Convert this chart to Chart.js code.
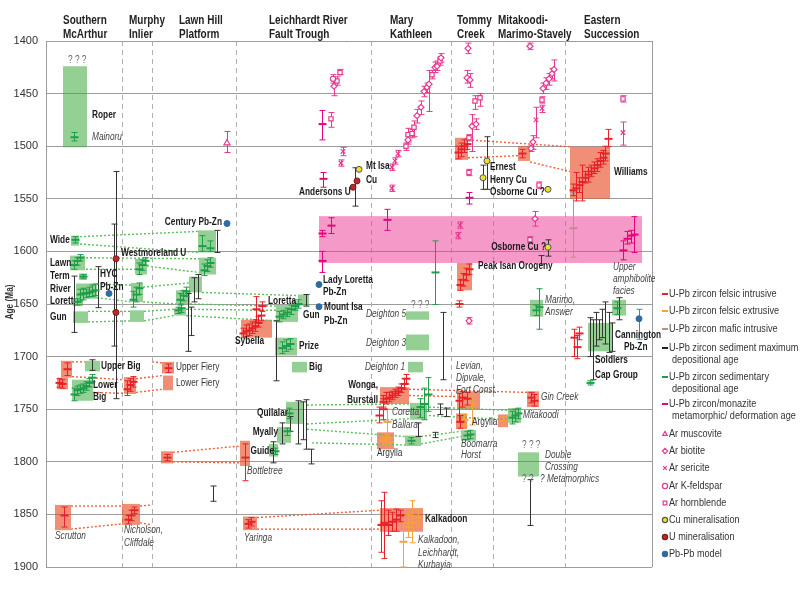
<!DOCTYPE html>
<html>
<head>
<meta charset="utf-8">
<script src="https://cdn.jsdelivr.net/npm/chart.js@4.4.1/dist/chart.umd.min.js"></script>
<style>html,body{margin:0;padding:0;background:#fff}canvas{display:block}</style>
</head>
<body>
<canvas id="chart" width="800" height="591" style="width:800px;height:591px"></canvas>
<script>
// --- Axis and columns ---
const ageMin = 1400, ageMax = 1900, ageStep = 50;
const columnNames = [['Southern', 'McArthur'], ['Murphy', 'Inlier'], ['Lawn Hill', 'Platform'], ['Leichhardt River', 'Fault Trough'],
    ['Mary', 'Kathleen'], ['Tommy', 'Creek'], ['Mitakoodi-', 'Marimo-Stavely'], ['Eastern', 'Succession']];
const columnStarts = [63, 129, 179, 269, 390, 457, 498, 584];
const columnBreaks = [122, 152, 236, 371, 451, 493, 565];

// --- U-Pb error bars: [position, age, low, high] ---
const felsicIntrusive = [
    [67, 1712, 1706, 1718], [59, 1725, 1721, 1729], [62, 1726, 1722, 1730], [64, 1851, 1843, 1862],
    [127, 1731, 1723, 1737], [130, 1727, 1721, 1733], [133, 1724, 1719, 1729],
    [128, 1855, 1851, 1859], [131, 1851, 1846, 1856], [134, 1846, 1843, 1849],
    [168, 1711, 1707, 1715], [167, 1796, 1793, 1799],
    [243, 1678, 1673, 1682], [246, 1676, 1670, 1681], [249, 1675, 1669, 1680], [252, 1673, 1667, 1678], [255, 1671, 1665, 1676],
    [258, 1668, 1662, 1672], [261, 1661, 1656, 1666], [256, 1655, 1643, 1668], [262, 1652, 1648, 1657],
    [245, 1796, 1783, 1818], [248, 1859, 1855, 1863], [251, 1857, 1853, 1861],
    [383, 1743, 1737, 1748], [386, 1740, 1734, 1745], [389, 1739, 1734, 1743], [392, 1737, 1733, 1741], [395, 1735, 1731, 1739],
    [398, 1733, 1729, 1737], [401, 1730, 1726, 1734], [404, 1726, 1721, 1731], [406, 1721, 1717, 1726],
    [379, 1756, 1748, 1763], [383, 1750, 1740, 1760],
    [381, 1860, 1837, 1886], [384, 1858, 1829, 1892], [388, 1860, 1846, 1870], [392, 1857, 1848, 1866], [396, 1855, 1845, 1866], [400, 1851, 1846, 1857],
    [458, 1506, 1500, 1512], [461, 1503, 1497, 1510], [464, 1500, 1494, 1506], [467, 1498, 1493, 1503],
    [460, 1632, 1627, 1637], [463, 1627, 1621, 1633], [466, 1622, 1616, 1628], [469, 1617, 1612, 1622], [459, 1650, 1647, 1653],
    [459, 1742, 1735, 1762], [462, 1739, 1733, 1748], [467, 1740, 1734, 1746], [460, 1762, 1756, 1768],
    [522, 1507, 1503, 1511], [531, 1739, 1734, 1744], [534, 1742, 1736, 1747],
    [608, 1493, 1484, 1500.5],
    [573, 1542, 1536, 1547], [576, 1540, 1525, 1552], [579, 1537, 1530, 1544], [582, 1534, 1518, 1552], [585, 1530, 1524, 1535],
    [588, 1527, 1520, 1534], [591, 1524, 1518, 1529], [594, 1521, 1515, 1526], [597, 1518, 1512, 1524], [600, 1514, 1506, 1520],
    [603, 1511, 1504, 1517], [605, 1507, 1500, 1514],
    [574, 1682, 1674, 1700], [577, 1691, 1680, 1702], [579, 1678, 1672, 1684]
];
const felsicExtrusive = [
    [387, 1762, 1750, 1776], [383, 1780, 1776, 1784], [386, 1778, 1774, 1783], [389, 1782, 1777, 1786],
    [403, 1876, 1858, 1900], [408, 1862, 1850, 1872], [412, 1858, 1837, 1877], [418, 1853, 1846, 1862],
    [472, 1745, 1737, 1765], [464, 1760, 1755, 1766], [503, 1761, 1757, 1765]
];
const maficIntrusive = [[573, 1578, 1544, 1605.5]];
const sedimentary = [
    [74, 1491.5, 1487, 1495], [75, 1589, 1586, 1592],
    [74, 1613, 1609, 1617], [77, 1609, 1606, 1613], [80, 1606, 1603, 1609], [83, 1624, 1622, 1626],
    [80, 1641, 1636, 1647], [83, 1640, 1635, 1646], [86, 1640, 1636, 1644], [89, 1639, 1634, 1643], [92, 1638, 1632, 1643], [95, 1637, 1631, 1642],
    [77, 1648, 1645, 1651],
    [74, 1736, 1730, 1742], [77, 1732, 1728, 1737], [80, 1731, 1727, 1735], [83, 1730, 1726, 1734], [86, 1728, 1724, 1732], [89, 1725, 1721, 1729], [92, 1720, 1717, 1724],
    [139, 1617, 1611, 1622], [142, 1613, 1608, 1618], [145, 1609, 1606, 1613],
    [133, 1646, 1638, 1653], [136, 1641, 1634, 1648], [139, 1635, 1630, 1641],
    [202, 1595, 1585, 1600], [210, 1597, 1590, 1600], [204, 1618, 1612, 1623], [207, 1614, 1608, 1619], [210, 1611, 1606, 1615],
    [180, 1646, 1640, 1651], [183, 1642, 1637, 1647], [186, 1638, 1634, 1643], [178, 1656, 1653, 1659], [181, 1654, 1650, 1658],
    [279, 1662, 1657, 1667], [283, 1660, 1656, 1664], [287, 1658, 1654, 1662], [291, 1655, 1651, 1660], [295, 1652, 1648, 1656], [298, 1650, 1646, 1654],
    [282, 1692, 1686, 1697], [286, 1690, 1684, 1695], [290, 1688, 1683, 1693],
    [289, 1754, 1749, 1759], [287, 1771, 1768, 1775], [275, 1790, 1787, 1793],
    [435, 1620, 1590, 1650.5], [420, 1748, 1740, 1758], [424, 1745, 1730, 1760], [428, 1736, 1720, 1752], [411, 1780, 1777, 1783],
    [467, 1775, 1771, 1779], [470, 1774, 1770, 1778],
    [539, 1653, 1635.5, 1674], [536, 1656, 1651, 1661], [512, 1758, 1752, 1764], [515, 1756, 1750, 1762], [518, 1754, 1749, 1759],
    [617, 1654, 1648, 1660], [590, 1725, 1723, 1727]
];
const metamorphic = [
    [322, 1479, 1466, 1494], [323, 1531, 1525, 1539], [322, 1583, 1580, 1586], [331, 1575.5, 1568, 1583], [322, 1609, 1600, 1620],
    [387, 1570, 1560, 1580], [469, 1549, 1544, 1555],
    [623, 1599, 1590, 1608], [627, 1588, 1581, 1593], [631, 1585, 1580, 1592], [634, 1584, 1567, 1601]
];
// maximum depositional ages: [position, low, high]
const sedimentMax = [
    [114, 1574, 1690], [116, 1524, 1740], [74, 1623.5, 1677], [98, 1614.5, 1653.5], [92, 1703, 1713],
    [217, 1580, 1601], [188, 1640, 1695], [191, 1653, 1680], [194, 1625, 1648], [198, 1622, 1645], [213, 1823, 1837.5],
    [355, 1520.5, 1557], [276, 1666, 1723], [306, 1641, 1652],
    [273, 1781, 1801], [282, 1763, 1783], [290, 1757, 1771], [298, 1742, 1783], [303, 1743, 1779], [306, 1741, 1788], [311, 1788, 1802],
    [418, 1763, 1776], [435, 1772, 1777], [440, 1745, 1755], [443, 1658, 1722], [446, 1749, 1757],
    [487, 1491, 1541], [483, 1518, 1541], [548, 1589, 1604.5], [541, 1604, 1612], [530, 1817, 1860.5],
    [619, 1644, 1665], [590, 1663, 1700], [593, 1665, 1722], [596, 1658, 1690], [599, 1665, 1684], [602, 1655, 1682],
    [605, 1648, 1688], [609, 1658, 1696], [612, 1668, 1695]
];

// --- Ar-Ar ages: [position, age, low, high] ---
const arMuscovite = [[227, 1497, 1486, 1506]];
const arBiotite = [
    [334, 1443, 1437, 1452],
    [408, 1494, 1490, 1498], [417, 1471, 1465, 1478], [421, 1463, 1457, 1470], [424, 1448, 1443, 1453], [427, 1444, 1440, 1449],
    [429, 1441, 1428, 1467], [435, 1425, 1420, 1430], [437, 1424, 1419, 1428], [441, 1416, 1412, 1420],
    [468, 1407, 1402, 1412], [467, 1435, 1428, 1440], [470, 1437, 1431, 1444], [472, 1481, 1470, 1505], [476, 1479, 1474, 1484], [469, 1666, 1663, 1669],
    [530, 1405, 1402, 1408], [543, 1445, 1440, 1450], [546, 1440, 1435, 1446], [549, 1436, 1431, 1442], [552, 1431, 1426, 1436],
    [554, 1427, 1418, 1438], [533, 1496, 1490, 1503], [531, 1502, 1499, 1505], [535, 1569, 1562, 1576]
];
const arSericite = [
    [343, 1505, 1501, 1509], [341, 1516, 1513, 1519], [392, 1520, 1517, 1523], [392, 1540, 1537, 1543], [395, 1514, 1511, 1517],
    [398, 1507, 1504, 1510], [460, 1575, 1572, 1578], [458, 1585, 1582, 1588], [542, 1464, 1461, 1468], [536, 1475, 1463, 1492],
    [623, 1487, 1477, 1499]
];
const arKfeldspar = [[333, 1436, 1432, 1440]];
const arHornblende = [
    [331, 1474, 1468, 1482], [337, 1438, 1434, 1442], [340, 1430, 1427, 1432],
    [406, 1500, 1497, 1504], [408, 1489, 1483, 1496], [412, 1488, 1484, 1492], [414, 1482, 1476, 1491], [432, 1432, 1428, 1436], [440, 1419, 1415, 1423],
    [475, 1457, 1452, 1465], [480, 1454, 1450, 1462], [469, 1492, 1489, 1495], [469, 1525, 1522, 1528],
    [542, 1456, 1453, 1459], [539, 1537, 1534, 1540], [530, 1589, 1586, 1592], [623, 1455, 1452, 1458]
];

// --- Mineralisation: [position, age] ---
const cuMineral = [[359, 1522], [487, 1514], [483, 1530], [548, 1541], [548, 1596]];
const uMineral = [[353, 1539], [357, 1533], [116, 1607], [116, 1658]];
const pbModel = [[109, 1640], [227, 1573.5], [319, 1631.5], [319, 1652.6], [639, 1664]];
const pbModelRange = [[639, 1655, 1683.5]];

// --- Units: [from, to, young top, old bottom] ---
const greenUnits = [
    [63, 87, 1424, 1501], [71, 79, 1585, 1594.5], [70, 85, 1604, 1618], [79, 87, 1621, 1627], [76, 97, 1630.5, 1645],
    [73, 83, 1645, 1652], [73, 88, 1657, 1668], [85, 100, 1704, 1714], [72, 93, 1722, 1742],
    [135, 147, 1607, 1622], [131, 143, 1630, 1648], [130, 144, 1656, 1667],
    [198, 216, 1580, 1601], [199, 216, 1606, 1622], [189, 202, 1624, 1639], [176, 190, 1637, 1650], [174, 186, 1654, 1661],
    [298, 309, 1641, 1651.5], [276, 298, 1651, 1667], [275, 297, 1682, 1699], [292, 307, 1705, 1715],
    [286, 303, 1743, 1764], [277, 291, 1767, 1782], [269, 278, 1783, 1795],
    [406, 429, 1657, 1665], [406, 429, 1679, 1694], [408, 423, 1705, 1715], [410, 427, 1744, 1760], [405, 421, 1775, 1785],
    [461, 476, 1770, 1780], [530, 543, 1646, 1662], [508, 521, 1749, 1763], [518, 539, 1791, 1814],
    [612, 626, 1646, 1661], [588, 613, 1668, 1695]
];
const redUnits = [
    [61, 72, 1704, 1720], [57, 68, 1720, 1731], [55, 71, 1841, 1865], [124, 136, 1719.5, 1735.5], [122, 140, 1840, 1860],
    [162, 174, 1705, 1716], [163, 173, 1718, 1732], [161, 173, 1790, 1801.5],
    [241, 272, 1665, 1682], [240, 250, 1780, 1804], [243, 257, 1852, 1865],
    [380, 409, 1729, 1745], [377, 394, 1772, 1788], [380, 423, 1844, 1866.5],
    [455, 468, 1492, 1513], [457, 472, 1611, 1637], [457, 480, 1733, 1750], [456, 467, 1754, 1769],
    [518, 530, 1500, 1514], [527, 539, 1733, 1748], [498, 508, 1755, 1767], [570, 610, 1500.5, 1550]
];
const metamorphicEvents = [[319, 642, 1566.5, 1611]];

// --- Correlations: [from, age, to, age] ---
const greenLinks = [
    [80, 1586, 198, 1581], [80, 1593, 198, 1601], [86, 1606, 199, 1607], [86, 1617, 135, 1617], [147, 1614, 199, 1620],
    [97, 1631, 131, 1632], [143, 1634, 189, 1630], [97, 1644, 131, 1648], [143, 1648, 176, 1650],
    [88, 1657, 130, 1657], [88, 1667, 130, 1666], [144, 1657, 174, 1655], [144, 1666, 174, 1661],
    [202, 1639, 298, 1642], [190, 1650, 276, 1652], [186, 1655, 276, 1656], [186, 1661, 276, 1666],
    [307, 1746, 410, 1745], [307, 1764, 410, 1759], [307, 1769, 405, 1776], [312, 1782, 405, 1784],
    [429, 1748, 508, 1751], [429, 1756, 508, 1760], [421, 1783, 461, 1776], [421, 1776, 461, 1771]
];
const redLinks = [
    [72, 1705, 85, 1705], [72, 1719, 124, 1722], [93, 1734, 124, 1735], [136, 1721, 163, 1718], [136, 1734, 163, 1731], [152, 1705, 162, 1706],
    [71, 1842, 122, 1842], [71, 1864, 122, 1859], [140, 1842, 152, 1841], [140, 1858, 152, 1860],
    [173, 1791, 240, 1785], [173, 1800, 240, 1801], [257, 1853, 380, 1846], [257, 1864, 380, 1864],
    [409, 1731, 527, 1734], [409, 1737, 457, 1738], [468, 1494, 570, 1500.5], [468, 1511, 518, 1509], [530, 1515, 570, 1524]
];

// --- Annotations: [text, position, age, style, align] ---
const notes = [
    ['? ? ?', 68, 1418.5, 'q'], ['Roper', 92, 1471, 'b'], ['Mainoru', 92, 1491, 'i'], ['Century Pb-Zn', 222, 1572, 'b', 'right'],
    ['Wide', 50, 1589.5, 'b'], ['Westmoreland U', 121, 1602, 'b'], ['Lawn', 50, 1611.5, 'b'], ['Term', 50, 1624, 'b'],
    ['HYC', 100, 1622, 'b'], ['Pb-Zn', 100, 1634, 'b'], ['River', 50, 1636, 'b'], ['Lorett', 50, 1647, 'b'], ['Gun', 50, 1663, 'b'],
    ['Upper Big', 101, 1709.5, 'b'], ['Lower', 93, 1727.5, 'b'], ['Big', 93, 1739, 'b'],
    ['Upper Fiery', 176, 1710, 'r'], ['Lower Fiery', 176, 1725.5, 'r'],
    ['Scrutton', 55, 1871, 'i'], ['Nicholson,', 124, 1865, 'i'], ['Cliffdale', 124, 1877, 'i'],
    ['Mt Isa', 366, 1519, 'b'], ['Cu', 366, 1532, 'b'], ['Andersons U', 299, 1544, 'b'],
    ['Lady Loretta', 323, 1627, 'b'], ['Pb-Zn', 323, 1639, 'b'], ['Mount Isa', 324, 1653, 'b'], ['Pb-Zn', 324, 1666, 'b'],
    ['Loretta', 268, 1647.5, 'b'], ['Gun', 303, 1661, 'b'], ['Sybella', 235, 1685.5, 'b'], ['Prize', 299, 1690.5, 'b'], ['Big', 309, 1710, 'b'],
    ['Quilalar', 288, 1754, 'b', 'right'], ['Myally', 278, 1772, 'b', 'right'], ['Guide', 274, 1790, 'b', 'right'],
    ['Bottletree', 247, 1809, 'i'], ['Yaringa', 244, 1873, 'i'],
    ['Deighton 5', 366, 1660, 'i'], ['? ? ?', 411, 1651, 'q'], ['Deighton 3', 366, 1687.5, 'i'], ['Deighton 1', 365, 1710, 'i'],
    ['Wonga,', 378, 1727.5, 'b', 'right'], ['Burstall', 378, 1741.5, 'b', 'right'],
    ['Coretta,', 392, 1753, 'i'], ['Ballara', 392, 1765.5, 'i'], ['Argylla', 377, 1792, 'r'],
    ['Kalkadoon', 425, 1855, 'b'], ['Kalkadoon,', 418, 1875, 'i'], ['Leichhardt,', 418, 1886.5, 'i'], ['Kurbayia', 418, 1898, 'i'],
    ['Levian,', 456, 1709.5, 'i'], ['Dipvale,', 456, 1721, 'i'], ['Fort Const.', 456, 1732, 'i'],
    ['Argylla', 472, 1762, 'r'], ['Boomarra', 461, 1783.5, 'i'], ['Horst', 461, 1794, 'i'],
    ['Gin Creek', 541, 1739, 'i'], ['Mitakoodi', 523, 1756, 'i'],
    ['? ? ?', 522, 1784.5, 'q'], ['Double', 545, 1794, 'i'], ['Crossing', 545, 1805.5, 'i'], ['? ?', 522, 1817, 'q'], ['? Metamorphics', 540, 1817, 'i'],
    ['Ernest', 490, 1520, 'b'], ['Henry Cu', 490, 1532.5, 'b'], ['Osborne Cu ?', 490, 1544, 'b'],
    ['Osborne Cu ?', 546, 1596, 'b', 'right'], ['Peak Isan Orogeny', 478, 1614.5, 'b'],
    ['Marimo,', 545, 1646.5, 'i'], ['Answer', 545, 1658, 'i'],
    ['Williams', 614, 1525, 'b'], ['Upper', 613, 1615.5, 'i'], ['amphibolite', 613, 1626.5, 'i'], ['facies', 613, 1638, 'i'],
    ['Cannington', 615, 1680, 'b'], ['Pb-Zn', 624, 1691.5, 'b'], ['Soldiers', 595, 1703.5, 'b'], ['Cap Group', 595, 1718, 'b']
];

const legendItems = [
    ['line', '#e8202a', ['U-Pb zircon felsic intrusive']],
    ['line', '#f5a13c', ['U-Pb zircon felsic extrusive']],
    ['line', '#c08c84', ['U-Pb zircon mafic intrusive']],
    ['line', '#222222', ['U-Pb zircon sediment maximum', 'depositional age']],
    ['line', '#1e9e4a', ['U-Pb zircon sedimentary', 'depositional age']],
    ['line', '#e6007e', ['U-Pb zircon/monazite', 'metamorphic/ deformation age']],
    ['triangle', null, ['Ar muscovite']], ['rectRot', null, ['Ar biotite']], ['crossRot', null, ['Ar sericite']],
    ['circle', null, ['Ar K-feldspar']], ['rect', null, ['Ar hornblende']],
    ['cu', null, ['Cu mineralisation']], ['u', null, ['U mineralisation']], ['pb', null, ['Pb-Pb model']]
];
const legendRows = [294, 311, 329, 348, 377, 404, 434, 451, 468, 486, 503, 520, 537, 554];

// --- Colours ---
const C = {
    red: '#e8202a', orange: '#f5a13c', mafic: '#c08c84', black: '#333333', green: '#1e9e4a', pink: '#e6007e', ar: '#e8388f',
    greenUnit: 'rgba(60,170,60,0.55)', redUnit: 'rgba(232,80,40,0.64)', band: 'rgba(236,60,150,0.52)',
    greenLink: '#5cbf5c', redLink: '#f0603a', grid: '#9c9c9c'
};

// --- Fonts ---
function hasNarrow() {
    const c = document.createElement('canvas').getContext('2d');
    c.font = '40px "Liberation Sans Narrow", monospace';
    const a = c.measureText('abcdefghijklm').width;
    c.font = '40px monospace';
    return Math.abs(a - c.measureText('abcdefghijklm').width) > 1;
}
const NARROW = hasNarrow();
const FAMILY = NARROW ? '"Liberation Sans Narrow", Arial, sans-serif' : '"Liberation Sans", Arial, sans-serif';

function write(ctx, s, x, y, font, color, align) {
    ctx.save();
    ctx.font = `${font} ${FAMILY}`;
    ctx.fillStyle = color;
    ctx.textBaseline = 'middle';
    ctx.textAlign = align || 'left';
    ctx.translate(x, y);
    if (!NARROW) ctx.scale(0.83, 1);
    ctx.fillText(s, 0, 0);
    ctx.restore();
}

function errorBar(ctx, px, yLo, yHi, yMid, color, cap) {
    px = Math.round(px) + 0.5;
    ctx.strokeStyle = color;
    ctx.lineWidth = 1;
    ctx.beginPath();
    ctx.moveTo(px, yLo); ctx.lineTo(px, yHi);
    ctx.moveTo(px - cap, yLo); ctx.lineTo(px + cap, yLo);
    ctx.moveTo(px - cap, yHi); ctx.lineTo(px + cap, yHi);
    ctx.stroke();
    if (yMid !== null) {
        ctx.lineWidth = 2;
        ctx.beginPath(); ctx.moveTo(px - 4, yMid); ctx.lineTo(px + 4, yMid); ctx.stroke();
    }
}

const geoPlugin = {
    id: 'geo',
    beforeDatasetsDraw(chart) {
        const { ctx, chartArea: a, scales: { x, y } } = chart;
        const X = v => x.getPixelForValue(v), Y = v => y.getPixelForValue(v);
        ctx.save();
        // column separators
        ctx.strokeStyle = '#b0b0b0'; ctx.lineWidth = 1; ctx.setLineDash([5, 4]);
        columnBreaks.forEach(b => { ctx.beginPath(); ctx.moveTo(Math.round(X(b)) + 0.5, a.top); ctx.lineTo(Math.round(X(b)) + 0.5, a.bottom); ctx.stroke(); });
        ctx.setLineDash([]);
        // units
        const box = (u, col) => { ctx.fillStyle = col; ctx.fillRect(X(u[0]), Y(u[2]), X(u[1]) - X(u[0]), Y(u[3]) - Y(u[2])); };
        metamorphicEvents.forEach(u => box(u, C.band));
        greenUnits.forEach(u => box(u, C.greenUnit));
        redUnits.forEach(u => box(u, C.redUnit));
        // correlations
        ctx.lineWidth = 1.4; ctx.setLineDash([2, 2]);
        const link = (l, col) => { ctx.strokeStyle = col; ctx.beginPath(); ctx.moveTo(X(l[0]), Y(l[1])); ctx.lineTo(X(l[2]), Y(l[3])); ctx.stroke(); };
        greenLinks.forEach(l => link(l, C.greenLink));
        redLinks.forEach(l => link(l, C.redLink));
        ctx.setLineDash([]);
        // error bars
        const bars = (list, col, cap) => list.forEach(d => errorBar(ctx, X(d[0]), Y(d[2]), Y(d[3]), Y(d[1]), col, cap));
        sedimentMax.forEach(d => errorBar(ctx, X(d[0]), Y(d[1]), Y(d[2]), null, C.black, 3));
        bars(maficIntrusive, C.mafic, 3);
        bars(sedimentary, C.green, 3);
        bars(felsicExtrusive, C.orange, 3);
        bars(felsicIntrusive, C.red, 3);
        bars(metamorphic, C.pink, 3);
        [arMuscovite, arBiotite, arSericite, arKfeldspar, arHornblende].forEach(list =>
            list.forEach(d => errorBar(ctx, X(d[0]), Y(d[2]), Y(d[3]), null, C.ar, 3)));
        pbModelRange.forEach(d => errorBar(ctx, X(d[0]), Y(d[1]), Y(d[2]), null, '#4a7fc0', 3));
        ctx.restore();
    },
    afterDraw(chart) {
        const { ctx, chartArea: a, scales: { x, y } } = chart;
        const X = v => x.getPixelForValue(v), Y = v => y.getPixelForValue(v);
        ctx.save();
        // right frame
        ctx.strokeStyle = C.grid; ctx.lineWidth = 1;
        ctx.beginPath(); ctx.moveTo(Math.round(a.right) + 0.5, a.top); ctx.lineTo(Math.round(a.right) + 0.5, a.bottom); ctx.stroke();
        // column headers
        columnNames.forEach((n, i) => {
            write(ctx, n[0], X(columnStarts[i]), 21, 'bold 12px', '#222');
            write(ctx, n[1], X(columnStarts[i]), 35, 'bold 12px', '#222');
        });
        // axis title
        ctx.save(); ctx.translate(10, 302); ctx.rotate(-Math.PI / 2);
        write(ctx, 'Age (Ma)', 0, 0, 'bold 10px', '#333', 'center');
        ctx.restore();
        // annotations
        const fonts = { b: ['bold 10px', '#1a1a1a'], i: ['italic 10px', '#444'], r: ['10px', '#333'], q: ['10px', '#666'] };
        notes.forEach(n => write(ctx, n[0], X(n[1]), Y(n[2]), fonts[n[3]][0], fonts[n[3]][1], n[4]));
        // legend
        legendItems.forEach((item, i) => {
            const ly = legendRows[i], kind = item[0];
            if (kind === 'line') {
                ctx.strokeStyle = item[1]; ctx.lineWidth = 2;
                ctx.beginPath(); ctx.moveTo(662, ly); ctx.lineTo(668, ly); ctx.stroke();
            } else {
                const spec = { cu: ['circle', '#efe224', '#555'], u: ['circle', '#c0272d', '#7a1a1a'], pb: ['circle', '#2f6aa3', '#2f6aa3'] }[kind]
                    || [kind, '#ffffff', C.ar];
                ctx.fillStyle = spec[1]; ctx.strokeStyle = spec[2]; ctx.lineWidth = 1.2;
                Chart.helpers.drawPoint(ctx, { pointStyle: spec[0], radius: 2.6, borderWidth: 1.2, rotation: 0 }, 665, ly);
            }
            item[2].forEach((line, j) => write(ctx, line, j ? 672 : 669, ly + j * 12, '11px', '#333'));
        });
        ctx.restore();
    }
};

// --- Markers through the library ---
const pts = list => list.map(d => ({ x: d[0], y: d[1] }));
const arSet = (list, style, r) => ({ data: pts(list), pointStyle: style, pointRadius: r, backgroundColor: '#ffffff', borderColor: C.ar, borderWidth: 1.2 });
const datasets = [
    arSet(arMuscovite, 'triangle', 3.5), arSet(arBiotite, 'rectRot', 3), arSet(arSericite, 'crossRot', 3.2),
    arSet(arKfeldspar, 'circle', 2.6), arSet(arHornblende, 'rect', 3),
    { data: pts(cuMineral), pointStyle: 'circle', pointRadius: 3, backgroundColor: '#efe224', borderColor: '#555', borderWidth: 1 },
    { data: pts(uMineral), pointStyle: 'circle', pointRadius: 3, backgroundColor: '#c0272d', borderColor: '#7a1a1a', borderWidth: 1 },
    { data: pts(pbModel), pointStyle: 'circle', pointRadius: 3, backgroundColor: '#2f6aa3', borderColor: '#2f6aa3', borderWidth: 1 }
];

const ticks = [];
for (let v = ageMin; v <= ageMax; v += ageStep) ticks.push(v);

new Chart(document.getElementById('chart').getContext('2d'), {
    type: 'scatter',
    data: { datasets },
    options: {
        responsive: false, animation: false, devicePixelRatio: 1,
        layout: { padding: { top: 41, right: 148, bottom: 24, left: 0 } },
        plugins: { legend: { display: false }, tooltip: { enabled: false } },
        scales: {
            x: { type: 'linear', min: 46, max: 652, display: false },
            y: {
                type: 'linear', reverse: true, min: ageMin, max: ageMax,
                afterBuildTicks: s => { s.ticks = ticks.map(v => ({ value: v })); },
                afterFit: s => { s.width = 46; },
                ticks: { color: '#333', font: { family: FAMILY, size: 11 }, padding: 8, callback: v => String(v) },
                grid: { color: C.grid, lineWidth: 1, drawTicks: false },
                border: { display: true, color: C.grid }
            }
        }
    },
    plugins: [geoPlugin]
});
</script>
</body>
</html>
